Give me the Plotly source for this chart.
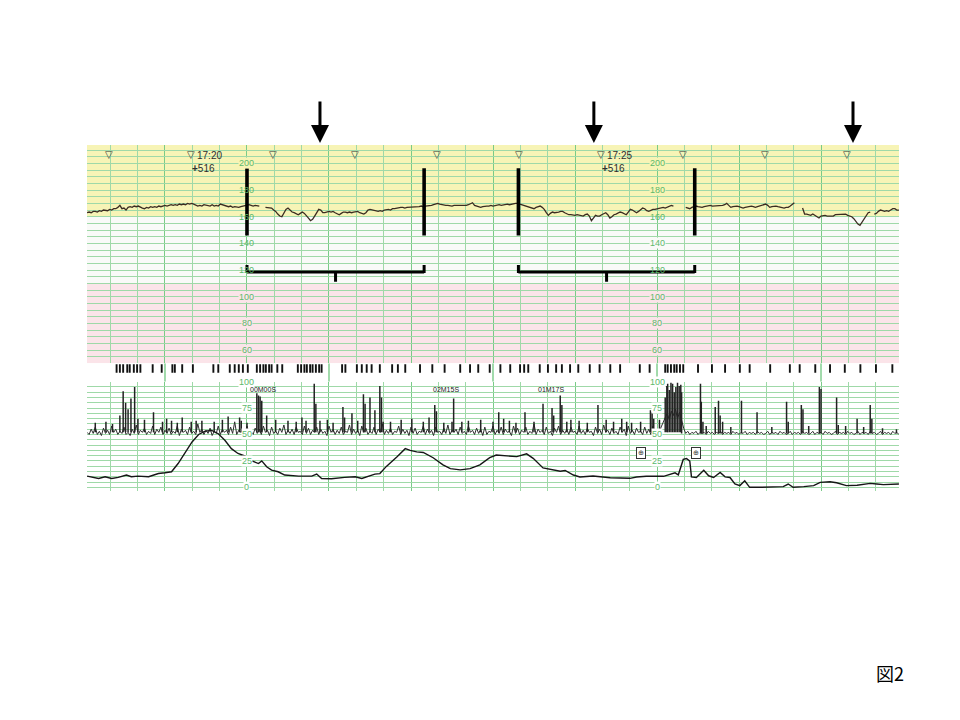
import plotly.graph_objects as go

# ---------------- data (time unit: minutes along the paper; 1 major column = 1 min) ----
# Fetal heart rate (bpm), read every 0.025 min from 0.05; None = signal loss
fhr_start = 0.05
fhr_step = 0.025
fhr_bpm = [
    163, 163.5, 163, 164, 164, 163.5, 164.5, 164, 165, 165,
    164.5, 165.5, 165, 166, 166, 167, 168.5, 166, 166.5, 165,
    167, 167.5, 167, 168, 167.5, 168, 167, 166.5, 166, 167,
    166.5, 167.5, 167, 167.5, 167, 168, 167.5, 168, 168.5, 168,
    168.5, 169, 168.5, 169, 168.5, 169.5, 169, 169.5, 169, 170,
    169.5, 170, 169.5, 168.5, 168, 168.5, 168, 169, 168.5, 168.5,
    168, 169, 168, 168.5, 168, 169.5, 169, 168, 167.5, 167.5,
    168, 167, 167.5, 167, 167, 167.5, 168, 168, 168.5, 169,
    168.5, 168, 168.5, 168, 168, None, None, 167, 167, 166.5,
    166.5, 165, 164, 162, 160.5, 160, 163, 165.5, 166.5, 165,
    163.5, 163, 162, 161.5, 162.5, 163.5, 162.5, 161, 159, 157,
    158, 160.5, 163, 165.5, 165, 163, 163, 163.5, 164, 163.5,
    164, 163, 162, 161.5, 162.5, 163.5, 163.5, 163, 163.5, 163,
    163.5, 164, 164, 163, 162.5, 162, 163, 165, 165.5, 165,
    165, 164.5, 164, 164.5, 164, 165, 165.5, 165.5, 165, 166,
    166, 166.5, 166.5, 167, 167, 166.5, 167, 167, 167.5, 167,
    167.5, 167.5, 167.5, 168, 167.5, 168, 168, 168.5, 168.5, 169,
    169.5, 170, 169.5, 169, 169, 168.5, 168.5, 168, 168, 168.5,
    168.5, 168, 168.5, 168, 168, 168.5, 169, 170, 170.5, 168.5,
    168, 167.5, 167, 167.5, 168, 168, 168, 168.5, 168, 168.5,
    168.5, 169, 168.5, 169, 169, 169.5, 169, 169.5, 169.5, 170,
    170, 169.5, 169, 168, 167.5, 167, 166.5, 166, 166, 167,
    167.5, 168, 167, 165.5, 163, 161, 162.5, 163.5, 163, 163,
    163.5, 164, 164, 163, 162, 161.5, 161.5, 161, 161, 161.5,
    161, 160.5, 160.5, 161.5, 162, 160.5, 157, 159, 161, 160.5,
    160.5, 161.5, 162.5, 163, 161.5, 159, 160, 161.5, 162, 163,
    163.5, 163, 162, 161.5, 163.5, 165.5, 165, 164, 163, 164,
    165, 166.5, 166, 164.5, 164, 165, 165.5, 165.5, 166, 166.5,
    167, 167, 166.5, 167, 167.5, 168.5, 168, None, None, None,
    None, None, 167, 166.5, 166, 167, 167.5, 168, 167.5, 167,
    167, 167.5, 168, 168, 168.5, 168, 168, 168, 168.5, 168,
    168.5, 169, 170, 168.5, 167, 167.5, 168, 168, 167.5, 167,
    166.5, 167, 167.5, 168, 168, 167.5, 167, 167.5, 168, 168.5,
    169, 169.5, 168.5, 167, 167.5, 168, 168, 167.5, 167, 166.5,
    166.5, 167, 167, 168, 169.5, 170.5, None, None, None, 166.5,
    162, 162, 161.5, 161, 162, 161, 160, 159, 160.5, 161,
    161, 160.5, 160.5, 160, 160.5, 161.5, 161.5, 162, 162, 161.5,
    162, 161, 160.5, 160, 158.5, 156.5, 154.5, 153.5, 156, 159,
    161.5, 163, 163.5, None, 162, 162.5, 164, 165, 164.5, 164,
    164.5, 164, 165, 166, 166, 165, 165]

# Uterine activity (smooth tocodynamometer curve)
ua_t = [0.05, 0.11, 0.19, 0.27, 0.35, 0.43, 0.53, 0.59, 0.67, 0.80,
        0.92, 1.00, 1.08, 1.16, 1.24, 1.33, 1.41, 1.49, 1.57, 1.65,
        1.73, 1.81, 1.89, 1.98, 2.06, 2.14, 2.18, 2.24, 2.30, 2.38,
        2.46, 2.63, 2.79, 2.85, 2.91, 3.03, 3.19, 3.32, 3.40, 3.48,
        3.56, 3.62,
        3.70, 3.83, 3.93, 3.99, 4.07, 4.15, 4.27, 4.39, 4.48, 4.60,
        4.72, 4.84, 4.96, 5.04, 5.17, 5.29, 5.41, 5.49, 5.61, 5.70,
        5.82, 5.88, 5.98, 6.06, 6.22, 6.43, 6.67, 6.75, 6.87, 7.08,
        7.16, 7.22,
        7.26, 7.32, 7.36, 7.40, 7.42, 7.48, 7.57, 7.63, 7.69, 7.77,
        7.83, 7.89, 7.95, 8.01, 8.07, 8.13, 8.26, 8.38, 8.54, 8.60,
        8.66, 8.79, 8.91, 8.99, 9.11, 9.19, 9.31, 9.44, 9.60, 9.68,
        9.76, 9.95]
ua_val = [10.6, 9.4, 8.4, 10, 8.4, 9.4, 11.6, 10, 10.6, 10,
          13.1, 13.8, 14.7, 22.5, 32, 42.9, 50, 53.2, 53.8, 50.7,
          44.5, 36.6, 32, 29.4, 25, 22.5, 25, 19.4, 16.3, 14.7,
          11.6, 10.6, 10.6, 12.5, 8.4, 8.1, 9.4, 10, 8.4, 10.6,
          12.5, 13,
          19.8, 29, 36.6, 35, 33.5, 33, 28, 21.3, 17.7, 16.5,
          17.7, 21.3, 28, 30.5, 29.6, 29, 31.7, 27.4, 18.3, 16.8,
          15.2, 15.9, 11.6, 9.8, 10.7, 9.1, 8.5, 9.8, 10.4, 10.4,
          12.2, 13.7,
          11.8, 26.4, 27.3, 24.8, 9.9, 9.3, 16.1, 10.9, 9.3, 14,
          9.9, 9.3, 3.1, 1.6, 6.2, 0, 0, 0, 0.6, 3.1,
          0, 0.6, 1.6, 4.7, 5.3, 4.3, 1.6, 1.9, 3.7, 3.1,
          2.5, 3.1]

# Fetal movement (actogram) baseline, read every 0.025 min from 0.05
act_start = 0.05
act_step = 0.025
act_val = [
    52, 50, 55, 51, 57, 50, 53, 49, 56, 51, 54, 50, 58, 52, 55, 50, 53, 51, 57, 50,
    52, 49, 55, 51, 59, 50, 54, 52, 56, 50, 53, 51, 58, 50, 55, 52, 57, 50, 54, 51,
    56, 50, 53, 51, 58, 49, 55, 52, 54, 50, 57, 51, 53, 50, 60, 52, 55, 50, 54, 51,
    56, 49, 53, 51, 58, 50, 55, 52, 54, 50, 57, 51, 62, 50, 54, 52, 55, 50, 58, 51,
    53, 50, 56, 51, 55, 50, 58, 52, 54, 49, 57, 51, 53, 50, 56, 52, 59, 50, 54, 51,
    55, 50, 57, 52, 53, 50, 58, 51, 56, 50, 54, 52, 57, 50, 55, 51, 53, 49, 58, 52,
    55, 50, 54, 51, 57, 50, 53, 52, 59, 50, 55, 51, 54, 49, 58, 52, 56, 50, 53, 51,
    57, 50, 55, 52, 60, 50, 54, 51, 56, 50, 53, 52, 58, 50, 55, 51, 54, 49, 57, 51,
    56, 50, 53, 52, 58, 50, 55, 51, 54, 49, 57, 52, 53, 50, 56, 51, 59, 50, 54, 52,
    55, 50, 57, 51, 53, 50, 58, 52, 54, 50, 56, 51, 55, 49, 57, 50, 53, 52, 58, 50,
    54, 51, 57, 50, 55, 52, 53, 49, 58, 51, 56, 50, 54, 52, 57, 50, 53, 51, 60, 50,
    55, 52, 54, 50, 57, 51, 53, 49, 56, 52, 58, 50, 54, 51, 55, 50, 57, 52, 53, 50,
    58, 51, 54, 50, 56, 52, 53, 49, 57, 51, 55, 50, 59, 52, 54, 50, 56, 51, 53, 50,
    57, 52, 55, 49, 58, 51, 54, 50, 56, 52, 53, 50, 57, 51, 55, 50, 58, 52, 54, 50,
    57, 62, 66, 70, 64, 72, 68, 74, 65, 71, 62, 56, 51, 53, 50, 52, 51, 53, 50, 52,
    51, 52, 50, 53, 51, 52, 50, 52, 51, 53, 50, 52, 51, 52, 50, 53, 51, 52, 50, 52,
    51, 53, 50, 52, 51, 52, 50, 53, 51, 52, 50, 51, 53, 50, 52, 51, 52, 50, 53, 51,
    52, 50, 51, 53, 50, 52, 51, 52, 50, 53, 51, 52, 50, 51, 53, 50, 52, 51, 52, 50,
    53, 51, 52, 50, 51, 53, 50, 52, 51, 52, 50, 53, 51, 52, 50, 51, 53, 50, 52, 51,
    52, 50, 53, 51, 52, 50, 51, 53, 50, 52, 51, 52, 50, 53, 51, 52, 50]

# Actogram spikes (time, peak height)
spike_t = [0.45, 0.49, 0.52, 0.55, 0.585, 0.63, 0.67, 0.86, 1.08, 1.21,
           1.32, 1.77, 1.91, 1.93, 2.12, 2.14, 2.16, 2.18, 2.24, 2.50,
           2.67, 2.82, 2.84, 2.89, 3.17, 3.19, 3.28, 3.42, 3.44, 3.50,
           3.56, 3.62, 3.64, 4.01, 4.29, 4.31, 4.50, 4.52, 5.07, 5.39,
           5.61, 5.72, 5.74, 5.82, 5.84, 5.90, 6.28, 6.47, 6.57, 6.69,
           6.92, 6.94, 6.96, 7.10, 7.12, 7.13, 7.15, 7.17, 7.19, 7.21,
           7.23, 7.25, 7.27, 7.29, 7.30, 7.53, 7.54, 7.56, 7.71, 7.75,
           7.77, 7.80, 8.03, 8.22, 8.58, 8.60, 8.76, 8.78, 8.98, 9.00,
           9.19, 9.21, 9.44, 9.60, 9.62, 9.75, 9.92]
spike_h = [68, 91, 80, 74, 84, 95, 65, 71, 63, 66,
           62, 67, 66, 63, 89, 87, 86, 82, 68, 63,
           66, 98, 79, 63, 76, 66, 70, 88, 79, 85,
           73, 96, 85, 65, 78, 72, 62, 84, 71, 71,
           79, 75, 68, 87, 78, 62, 78, 62, 65, 61,
           73, 71, 65, 85, 96, 98, 92, 99, 98, 90,
           95, 99, 96, 97, 90, 98, 81, 62, 76, 82,
           68, 62, 82, 71, 81, 62, 78, 74, 95, 93,
           85, 59, 65, 78, 65, 56, 55]
# small actogram spikes
small_spike_t = [0.15, 0.28, 0.36, 0.75, 0.97, 1.02, 1.15, 1.38, 1.45, 1.60,
                 1.70, 2.00, 2.35, 2.60, 2.72, 2.98, 3.05, 3.35, 3.66, 3.75,
                 3.88, 4.15, 4.22, 4.40, 4.62, 4.70, 4.85, 5.00, 5.13, 5.20,
                 5.28, 5.50, 5.95, 6.05, 6.15, 6.38, 6.63, 6.80, 7.03, 7.60,
                 7.90, 8.40, 8.85, 9.30, 9.52]
small_spike_h = [61, 62, 60, 64, 62, 65, 61, 63, 63, 62,
                 64, 61, 64, 62, 63, 64, 61, 63, 62, 62,
                 64, 62, 66, 61, 62, 63, 64, 62, 65, 63,
                 61, 62, 64, 63, 61, 64, 62, 62, 64, 58,
                 57, 57, 58, 58, 57]

# Fetal movement marks in the strip between the two channels
fm_t = [0.41, 0.45, 0.49, 0.54, 0.57, 0.62, 0.66, 0.70, 0.85, 0.96,
        1.09, 1.12, 1.21, 1.34, 1.59, 1.65, 1.79, 1.85, 1.90, 1.95,
        2.01, 2.12, 2.16, 2.20, 2.23, 2.27, 2.30, 2.37, 2.43, 2.62,
        2.66, 2.70, 2.73, 2.77, 2.80, 2.84, 2.88, 2.91, 3.16, 3.20,
        3.34, 3.40, 3.46, 3.52, 3.62, 3.77, 3.84, 3.93, 4.11, 4.26,
        4.41, 4.60, 4.72, 4.82, 4.96, 5.09, 5.21, 5.33, 5.38, 5.43,
        5.57, 5.67, 5.77, 5.84, 5.94, 6.04, 6.18, 6.30, 6.43, 6.55,
        6.79, 6.91, 7.10, 7.13, 7.17, 7.21, 7.24, 7.28, 7.32, 7.50,
        7.67, 7.83, 8.01, 8.13, 8.38, 8.62, 8.74, 8.93, 9.11, 9.29,
        9.48, 9.67, 9.87]

# Axis scale labels (printed twice on the paper)
fhr_ticks = [200, 180, 160, 140, 120, 100, 80, 60]
ua_ticks = [100, 75, 50, 25, 0]
scale_cols = [2.0, 7.0]

# Event marks / printed texts
tri_t = [0.32, 1.32, 2.32, 3.32, 4.32, 5.32, 6.32, 7.32, 8.32, 9.32]
time_labels = ["17:20", "17:25"]
time_label_t = [1.32, 6.32]
episode_texts = ["00M00S", "02M15S", "01M17S"]
episode_t = [2.20, 4.43, 5.71]
box_sym_t = [6.81, 7.47]

# Annotations added by the author
arrow_t = [2.89, 6.23, 9.39]
bar_t = [2.0, 4.16, 5.31, 7.46]
bracket_pairs = [(2.0, 4.16), (5.31, 7.46)]

# ---------------- figure ----------------
X0, X1 = 0.049, 9.951
FHR_RANGE = [50, 213.8]
UA_RANGE = [-3.5, 100]

MAJ = '#7acb88'
MIN = '#9fd9a8'
YELLOW = '#f7f4b6'
PINK = '#fbe4e9'
WHITE = '#f9faf8'
LBL = '#5cb96c'

fig = go.Figure()

fhr_t = [fhr_start + i * fhr_step for i in range(len(fhr_bpm))]
fig.add_trace(go.Scatter(x=fhr_t, y=fhr_bpm, mode='lines', connectgaps=False,
                         line=dict(color='#3b2c22', width=1.3),
                         xaxis='x', yaxis='y', hoverinfo='skip'))

act_t = [act_start + i * act_step for i in range(len(act_val))]
fig.add_trace(go.Scatter(x=act_t, y=act_val, mode='lines',
                         line=dict(color='#2e2e2e', width=1),
                         xaxis='x2', yaxis='y2', hoverinfo='skip'))

sx, sy = [], []
for t, h in list(zip(spike_t, spike_h)) + list(zip(small_spike_t, small_spike_h)):
    base = 52 if t < 7.3 else 51
    sx += [t, t, None]
    sy += [base, h, None]
fig.add_trace(go.Scatter(x=sx, y=sy, mode='lines', connectgaps=False,
                         line=dict(color='#222222', width=1.5),
                         xaxis='x2', yaxis='y2', hoverinfo='skip'))

fig.add_trace(go.Scatter(x=ua_t, y=ua_val, mode='lines',
                         line=dict(color='#161616', width=1.4),
                         xaxis='x2', yaxis='y2', hoverinfo='skip'))

fig.add_trace(go.Scatter(x=fm_t, y=[0.72] * len(fm_t), mode='markers',
                         marker=dict(symbol='line-ns', size=6,
                                     line=dict(width=1.9, color='#111111')),
                         xaxis='x3', yaxis='y3', hoverinfo='skip'))

xcommon = dict(range=[X0, X1], showticklabels=False, ticks='', zeroline=False,
               showline=False, tick0=0, dtick=1, showgrid=True,
               gridcolor=MAJ, gridwidth=1.4,
               minor=dict(dtick=1 / 3, tick0=0, showgrid=True,
                          gridcolor=MIN, gridwidth=1))

shapes = []
shapes.append(dict(type='rect', xref='x domain', yref='y', x0=0, x1=1,
                   y0=160, y1=FHR_RANGE[1], fillcolor=YELLOW, line=dict(width=0),
                   layer='below'))
shapes.append(dict(type='rect', xref='x domain', yref='y', x0=0, x1=1,
                   y0=110, y1=160, fillcolor=WHITE, line=dict(width=0),
                   layer='below'))
shapes.append(dict(type='rect', xref='x domain', yref='y', x0=0, x1=1,
                   y0=FHR_RANGE[0], y1=110, fillcolor=PINK, line=dict(width=0),
                   layer='below'))
for t in [1, 3, 5, 7, 9]:
    shapes.append(dict(type='line', xref='x3', yref='y3', x0=t, x1=t, y0=0, y1=1,
                       line=dict(color=MAJ, width=1.4), layer='below'))
for t in bar_t:
    shapes.append(dict(type='line', xref='x', yref='y', x0=t, x1=t,
                       y0=145.9, y1=196.4, line=dict(color='black', width=3.6)))
for a, b in bracket_pairs:
    yb = 118.6
    shapes.append(dict(type='line', xref='x', yref='y', x0=a, x1=b, y0=yb, y1=yb,
                       line=dict(color='black', width=3)))
    for e in (a, b):
        shapes.append(dict(type='line', xref='x', yref='y', x0=e, x1=e,
                           y0=yb - 0.8, y1=123.8, line=dict(color='black', width=3)))
    m = (a + b) / 2
    shapes.append(dict(type='line', xref='x', yref='y', x0=m, x1=m,
                       y0=yb, y1=111.2, line=dict(color='black', width=3)))

annotations = []
lab_font = dict(family='Liberation Sans, Arial, sans-serif', size=9, color=LBL)
for c in scale_cols:
    for v in fhr_ticks:
        bg = YELLOW if v >= 170 else (WHITE if v >= 110 else PINK)
        if v == 160 or v == 120 or (c in bar_t and 140 <= v <= 190):
            bg = None
        annotations.append(dict(x=c, y=v, xref='x', yref='y', text=str(v),
                                showarrow=False, font=lab_font, bgcolor=bg,
                                borderpad=0, xanchor='center', yanchor='middle'))
    for v in ua_ticks:
        annotations.append(dict(x=c, y=v, xref='x2', yref='y2', text=str(v),
                                showarrow=False, font=lab_font, bgcolor='white',
                                borderpad=0, xanchor='center', yanchor='middle'))

dark_font = dict(family='Liberation Sans, Arial, sans-serif', size=10, color='#2e2e2e')
for t in tri_t:
    annotations.append(dict(x=t, y=206.6, xref='x', yref='y', text='▽',
                            showarrow=False, xanchor='center', yanchor='middle',
                            font=dict(family='DejaVu Sans', size=10, color='#333333')))
for lbl, t in zip(time_labels, time_label_t):
    annotations.append(dict(x=t + 0.045, y=206.2, xref='x', yref='y', text=lbl,
                            showarrow=False, xanchor='left', yanchor='middle',
                            font=dark_font))
    annotations.append(dict(x=t - 0.02, y=196.0, xref='x', yref='y',
                            text='<b>+</b>516', showarrow=False, xanchor='left',
                            yanchor='middle', font=dark_font))
for txt, t in zip(episode_texts, episode_t):
    annotations.append(dict(x=t, y=92.5, xref='x2', yref='y2', text=txt,
                            showarrow=False, xanchor='center', yanchor='middle',
                            font=dict(family='Liberation Sans, Arial, sans-serif',
                                      size=7, color='#222222')))
for t in box_sym_t:
    annotations.append(dict(x=t, y=32.5, xref='x2', yref='y2', text='⊕',
                            showarrow=False, xanchor='center', yanchor='middle',
                            font=dict(family='DejaVu Sans', size=7, color='#333333'),
                            bordercolor='#333333', borderwidth=1, borderpad=1,
                            bgcolor='white'))
for t in arrow_t:
    annotations.append(dict(x=t, y=1.006, xref='x', yref='paper', text='',
                            showarrow=True, arrowhead=2, arrowsize=1.2,
                            arrowwidth=3, arrowcolor='black', ax=0, ay=-43))
annotations.append(dict(x=0.989, y=-0.526, xref='paper', yref='paper', text='図2',
                        showarrow=False, xanchor='center', yanchor='middle',
                        font=dict(family='Noto Sans CJK JP', size=18, color='black')))

fig.update_layout(
    width=960, height=720,
    margin=dict(l=87, r=61, t=145, b=229),
    paper_bgcolor='white', plot_bgcolor='white',
    showlegend=False,
    xaxis=dict(anchor='y', **xcommon),
    xaxis2=dict(anchor='y2', matches='x', **xcommon),
    xaxis3=dict(anchor='y3', matches='x', range=[X0, X1], showgrid=False,
                showticklabels=False, ticks='', zeroline=False, showline=False),
    yaxis=dict(domain=[0.369, 1], range=FHR_RANGE, tick0=50, dtick=5,
               showgrid=True, gridcolor=MIN, gridwidth=1,
               showticklabels=False, ticks='', zeroline=False, showline=False),
    yaxis2=dict(domain=[0, 0.316], range=UA_RANGE, tick0=0, dtick=5,
                showgrid=True, gridcolor=MIN, gridwidth=1,
                showticklabels=False, ticks='', zeroline=False, showline=False),
    yaxis3=dict(domain=[0.316, 0.369], range=[0, 1], showgrid=False,
                showticklabels=False, ticks='', zeroline=False, showline=False),
    shapes=shapes,
    annotations=annotations,
)

fig.write_html('out.html', include_plotlyjs=True,
               config={'displayModeBar': False},
               post_script="document.body.style.margin='0';")
